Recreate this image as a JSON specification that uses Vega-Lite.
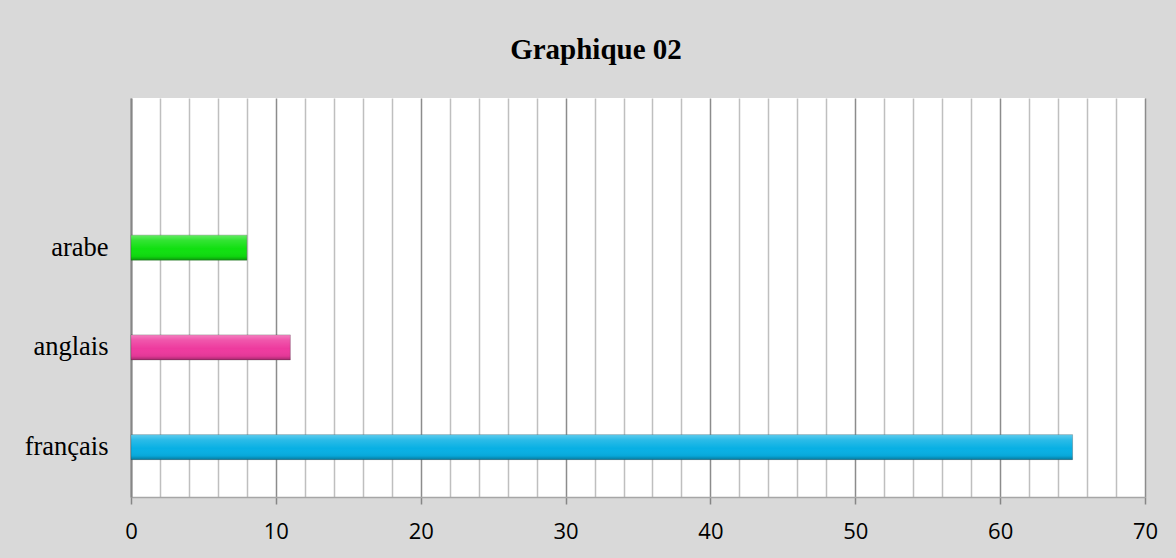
{
  "$schema": "https://vega.github.io/schema/vega-lite/v6.json",
  "width": 1014,
  "height": 399,
  "autosize": {"type": "none"},
  "padding": {"left": 131, "top": 98, "right": 31, "bottom": 61},
  "background": "#d9d9d9",
  "title": {
    "text": "Graphique 02",
    "font": "Liberation Serif",
    "fontSize": 29,
    "fontWeight": "bold",
    "color": "#000000",
    "anchor": "middle",
    "baseline": "alphabetic",
    "offset": 10,
    "dx": -42
  },
  "data": {
    "values": [
      {"langue": "français", "valeur": 65},
      {"langue": "anglais", "valeur": 11},
      {"langue": "arabe", "valeur": 8}
    ]
  },
  "encoding": {
    "y": {
      "field": "langue",
      "type": "nominal",
      "scale": {"domain": ["", "arabe", "anglais", "français"], "paddingInner": 0, "paddingOuter": 0},
      "axis": {
        "title": null,
        "ticks": false,
        "grid": false,
        "domain": true,
        "domainColor": "#868686",
        "domainWidth": 2,
        "labelFont": "Liberation Serif",
        "labelFontSize": 26.5,
        "labelColor": "#000000",
        "labelPadding": 23
      }
    },
    "x": {
      "field": "valeur",
      "type": "quantitative",
      "scale": {"domain": [0, 70], "nice": false, "zero": true},
      "axis": {
        "title": null,
        "values": [0, 2, 4, 6, 8, 10, 12, 14, 16, 18, 20, 22, 24, 26, 28, 30, 32, 34, 36, 38, 40, 42, 44, 46, 48, 50, 52, 54, 56, 58, 60, 62, 64, 66, 68, 70],
        "labelExpr": "datum.value % 10 === 0 ? datum.label : ''",
        "grid": true,
        "gridColor": {"condition": {"test": "datum.value % 10 === 0", "value": "#8c8c8c"}, "value": "#bfbfbf"},
        "gridWidth": 1.5,
        "tickColor": "#868686",
        "tickWidth": 1.5,
        "tickSize": 7,
        "tickOpacity": {"condition": {"test": "datum.value % 10 === 0", "value": 1}, "value": 0},
        "domainColor": "#a6a6a6",
        "domainWidth": 1.5,
        "labelFont": "Open Sans",
        "labelFontSize": 22,
        "labelColor": "#000000",
        "labelPadding": 17,
        "labelFlush": false
      }
    }
  },
  "layer": [
    {
      "mark": {"type": "bar", "size": 25, "stroke": "#404040", "strokeOpacity": 0.3, "strokeWidth": 1},
      "encoding": {
        "color": {
          "field": "langue",
          "type": "nominal",
          "scale": {"domain": ["français", "anglais", "arabe"], "range": ["#08b0e4", "#ee3a9e", "#10e010"]},
          "legend": null
        }
      }
    },
    {
      "mark": {
        "type": "bar",
        "size": 25,
        "fill": {
          "gradient": "linear",
          "x1": 0, "y1": 0, "x2": 0, "y2": 1,
          "stops": [
            {"offset": 0, "color": "rgba(255,255,255,0.35)"},
            {"offset": 0.2, "color": "rgba(255,255,255,0.15)"},
            {"offset": 0.55, "color": "rgba(255,255,255,0)"},
            {"offset": 0.85, "color": "rgba(0,0,0,0.05)"},
            {"offset": 1, "color": "rgba(0,0,0,0.3)"}
          ]
        }
      },
      "encoding": {}
    }
  ],
  "config": {
    "view": {"fill": "#ffffff", "stroke": null}
  }
}
